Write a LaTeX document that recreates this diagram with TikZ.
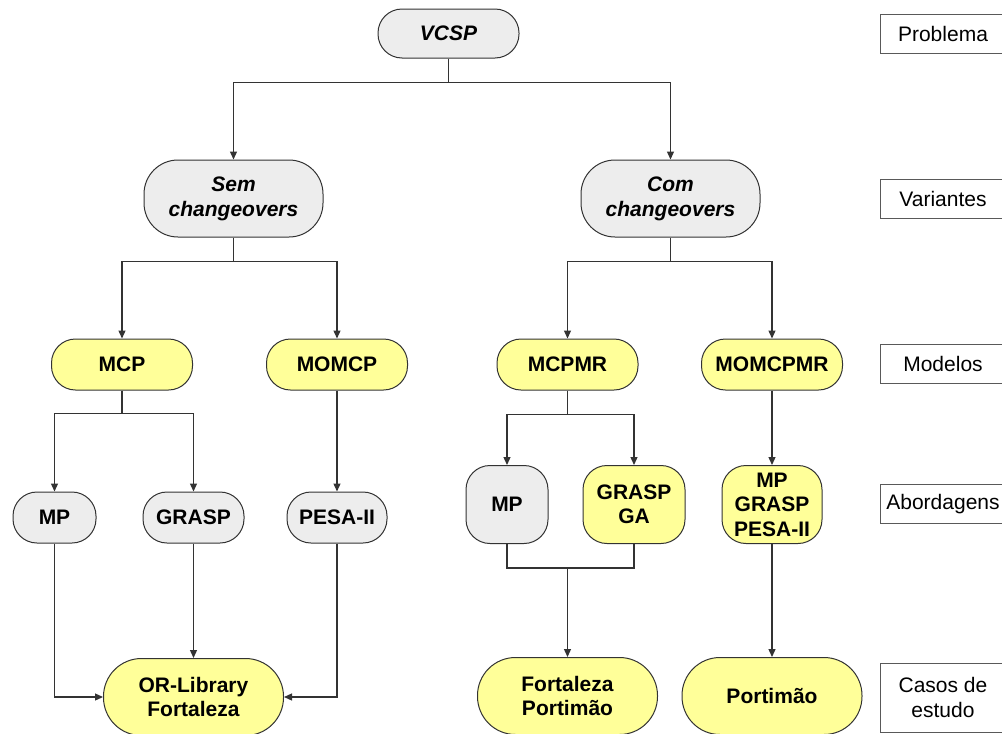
\documentclass[tikz,border=0pt]{standalone}
\usepackage{fontspec}
\setmainfont{Liberation Sans}
\usetikzlibrary{arrows.meta,positioning}
\definecolor{boxgray}{HTML}{EDEDED}
\definecolor{boxyellow}{HTML}{FFFF99}
\definecolor{edgegray}{HTML}{333333}

\begin{document}
\begin{tikzpicture}[x=1pt, y=-1pt, on grid, >={Triangle[length=8pt,width=7pt]},
    treebox/.style={draw=edgegray, line width=1pt, align=center, inner xsep=0pt, inner ysep=2pt, font=\fontsize{21}{24.5}\selectfont\bfseries},
    pill/.style={treebox, rounded corners=24pt, minimum height=51pt},
    bigpill/.style={treebox, rounded corners=34pt, minimum width=179pt, minimum height=77pt, font=\fontsize{21}{25}\selectfont\bfseries\itshape},
    tallbox/.style={treebox, rounded corners=24pt, minimum height=78pt},
    casebox/.style={treebox, rounded corners=38pt, minimum width=180pt, minimum height=77pt, fill=boxyellow},
    greyfill/.style={fill=boxgray}, yellowfill/.style={fill=boxyellow},
    tierlabel/.style={draw=gray!70!black, line width=1pt, fill=white, minimum width=126pt, minimum height=39pt, align=center, font=\fontsize{21}{25}\selectfont}]
    \useasboundingbox (0,0) rectangle (1002,734);
    % Nodes (problem, variants, models)
    \node[pill, greyfill, minimum width=141pt, minimum height=49pt, font=\fontsize{21}{25}\selectfont\bfseries\itshape] (vcsp) at (448.5,33.5) {VCSP};
    \node[bigpill, greyfill, below left=165pt and 215pt of vcsp] (sem) {Sem\\changeovers};
    \node[bigpill, greyfill, below right=165pt and 222pt of vcsp] (com) {Com\\changeovers};
    \node[pill, yellowfill, minimum width=141pt, below left=166pt and 111.5pt of sem] (mcp) {MCP};
    \node[pill, yellowfill, minimum width=141pt, below right=166pt and 103.5pt of sem] (momcp) {MOMCP};
    \node[pill, yellowfill, minimum width=141pt, below left=166pt and 103pt of com] (mcpmr) {MCPMR};
    \node[pill, yellowfill, minimum width=141pt, below right=166pt and 101.5pt of com] (momcpmr) {MOMCPMR};
    % Nodes (approaches and case studies)
    \node[pill, greyfill, minimum width=83pt, below left=153pt and 67.5pt of mcp] (mp1) {MP};
    \node[pill, greyfill, minimum width=101pt, below right=153pt and 71.5pt of mcp] (grasp1) {GRASP};
    \node[pill, greyfill, minimum width=100pt, below=153pt of momcp] (pesa1) {PESA-II};
    \node[tallbox, greyfill, minimum width=82pt, below left=140pt and 60.5pt of mcpmr] (mp2) {MP};
    \node[tallbox, yellowfill, minimum width=102pt, below right=140pt and 66.5pt of mcpmr] (graspga) {GRASP\\GA};
    \node[tallbox, yellowfill, minimum width=100pt, below=140pt of momcpmr] (mixed) {MP\\GRASP\\PESA-II};
    \node[casebox, below=179.5pt of grasp1] (orlib) {OR-Library\\Fortaleza};
    \node[casebox, below=331.5pt of mcpmr] (fortport) {Fortaleza\\Portimão};
    \node[casebox, below=191.5pt of mixed] (portim) {Portimão};
    % Level labels
    \node[tierlabel] (lprob) at (943,33.5) {Problema};
    \node[tierlabel] (lvar) at (943,198.5) {Variantes};
    \node[tierlabel] (lmod) at (943,363.5) {Modelos};
    \node[tierlabel] (labord) at (943,504) {Abordagens};
    \node[tierlabel, minimum height=69pt] (lcasos) at (943,697.5) {Casos de\\estudo};
    % Connectors
    \begin{scope}[draw=edgegray, line width=1.3pt]
    \draw[->] (vcsp.south) -- ++(0,24) -| (sem.north);
    \draw[->] (vcsp.south) -- ++(0,24) -| (com.north);
    \draw[->] (sem.south) -- ++(0,24) -| (mcp.north);
    \draw[->] (sem.south) -- ++(0,24) -| (momcp.north);
    \draw[->] (com.south) -- ++(0,24) -| (mcpmr.north);
    \draw[->] (com.south) -- ++(0,24) -| (momcpmr.north);
    \draw[->] (mcp.south) -- ++(0,23) -| (mp1.north);
    \draw[->] (mcp.south) -- ++(0,23) -| (grasp1.north);
    \draw[->] (momcp.south) -- (pesa1.north);
    \draw[->] (mcpmr.south) -- ++(0,24) -| (mp2.north);
    \draw[->] (mcpmr.south) -- ++(0,24) -| (graspga.north);
    \draw[->] (momcpmr.south) -- (mixed.north);
    \draw[->] (mp1.south) |- (orlib.west);
    \draw[->] (grasp1.south) -- (orlib.north);
    \draw[->] (pesa1.south) |- (orlib.east);
    \coordinate[below=24pt of mp2.south] (join);
    \draw (mp2.south) -- (join) -| (graspga.south);
    \draw[->] (join -| fortport.north) -- (fortport.north);
    \draw[->] (mixed.south) -- (portim.north);
    \end{scope}
\end{tikzpicture}
\end{document}
